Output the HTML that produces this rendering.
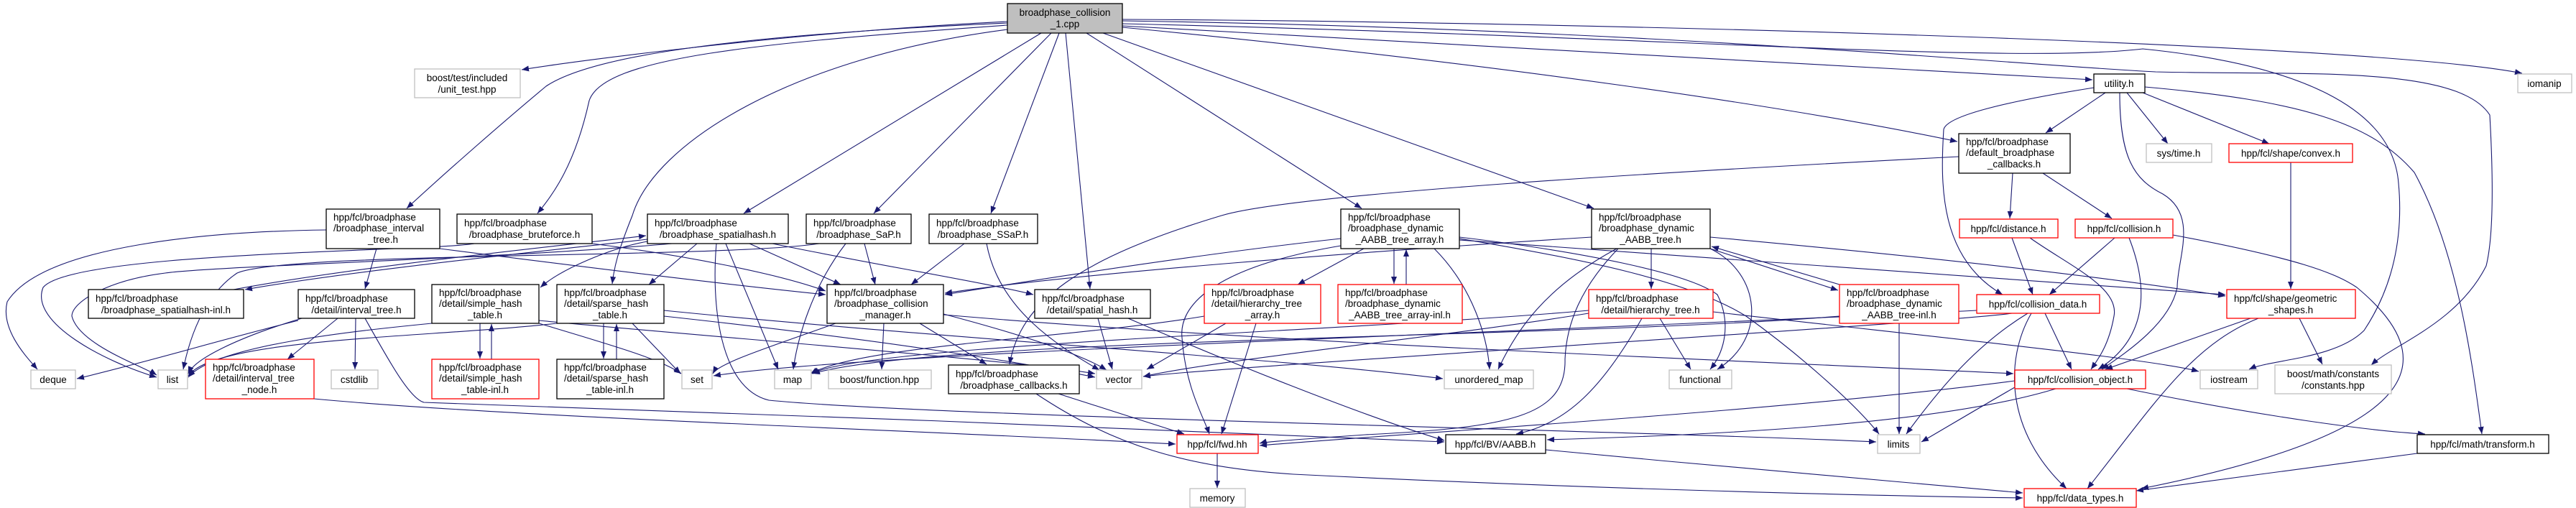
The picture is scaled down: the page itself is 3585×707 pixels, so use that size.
<!DOCTYPE html>
<html><head><meta charset="utf-8"><style>
html,body{margin:0;padding:0;background:#fff;}
svg{display:block;}
text{font-family:"Liberation Sans",Helvetica,sans-serif;font-size:13.5px;fill:#000;}
.e{fill:none;stroke:#191970;stroke-width:1.1;marker-end:url(#a);}
.n{fill:#fff;stroke:#000;stroke-width:1.3;}
.g{fill:#fff;stroke:#bfbfbf;stroke-width:1.3;}
.r{fill:#fff;stroke:#ff0000;stroke-width:1.3;}
</style></head><body>
<svg width="3585" height="707" viewBox="0 0 3585 707" xmlns="http://www.w3.org/2000/svg">
<defs><marker id="a" markerUnits="userSpaceOnUse" markerWidth="11" markerHeight="8" refX="10" refY="4" orient="auto"><path d="M0,0 L10,4 L0,8 z" fill="#191970"/></marker></defs>
<g>
<!-- main edges -->
<path class="e" d="M1402,30 C1100,45 800,85 726,97"/>
<path class="e" d="M1402,32 C1000,50 820,80 760,120 C700,170 620,240 566,290"/>
<path class="e" d="M1402,35 C1050,60 840,80 820,140 C800,230 770,270 748,297"/>
<path class="e" d="M1402,41 C1100,80 910,200 880,300 C860,350 855,370 852,395"/>
<path class="e" d="M1449,46 L1035,297"/>
<path class="e" d="M1463,46 L1216,297"/>
<path class="e" d="M1474,46 L1379,297"/>
<path class="e" d="M1483,46 L1517,402"/>
<path class="e" d="M1512,46 L1895,290"/>
<path class="e" d="M1535,46 L2218,290"/>
<path class="e" d="M1562,36 C2000,60 2600,95 2912,111"/>
<path class="e" d="M1562,38 C2100,90 2500,150 2724,197"/>
<path class="e" d="M1562,27 C2200,30 3300,60 3510,102"/>
<path class="e" d="M1562,29 C2300,40 2800,90 3000,100 C3200,105 3420,90 3465,160 C3470,250 3470,330 3460,370 C3420,450 3330,480 3300,508"/>
<path class="e" d="M1562,33 C2300,50 2800,90 2982,68 C3200,90 3330,150 3338,255 C3345,330 3330,400 3290,460 C3250,500 3160,500 3130,514"/>
<!-- interval_tree.h -->
<path class="e" d="M454,320 C300,322 60,340 10,420 C0,460 40,500 52,514"/>
<path class="e" d="M524,346 L508,402"/>
<path class="e" d="M612,346 C800,370 1000,395 1149,410"/>
<!-- bruteforce -->
<path class="e" d="M660,339 C600,350 100,350 60,400 C40,450 150,505 218,525"/>
<path class="e" d="M824,339 C950,355 1080,380 1149,405"/>
<!-- spatialhash.h -->
<path class="e" d="M901,333 C800,345 500,375 341,403"/>
<path class="e" d="M325,403 C500,370 800,340 899,328"/>
<path class="e" d="M901,336 C850,345 780,375 752,400"/>
<path class="e" d="M970,339 L903,396"/>
<path class="e" d="M1043,339 L1170,396"/>
<path class="e" d="M1010,339 L1083,514"/>
<path class="e" d="M1075,339 C1200,365 1380,395 1438,410"/>
<path class="e" d="M997,339 C990,420 1000,540 1070,557 C1300,580 2300,600 2611,615"/>
<path class="e" d="M935,339 C700,360 300,370 230,380 C150,390 100,420 100,440 C110,480 200,510 218,522"/>
<!-- SaP -->
<path class="e" d="M1203,339 L1218,396"/>
<path class="e" d="M1177,339 C1130,400 1110,470 1104,514"/>
<path class="e" d="M1140,339 C1000,360 400,350 330,380 C300,400 270,440 255,514"/>
<!-- SSaP -->
<path class="e" d="M1342,339 L1268,396"/>
<path class="e" d="M1373,339 C1390,430 1470,480 1530,515"/>
<!-- collision_manager -->
<path class="e" d="M1163,450 C1080,480 1000,505 992,520"/>
<path class="e" d="M1230,450 L1227,514"/>
<path class="e" d="M1280,450 L1373,507"/>
<path class="e" d="M1313,437 C1400,460 1500,490 1540,515"/>
<path class="e" d="M1313,438 C1800,480 2500,505 2802,520"/>
<!-- spatial_hash.h -->
<path class="e" d="M1528,443 L1548,514"/>
<path class="e" d="M1570,443 C1700,500 1900,580 2010,613"/>
<!-- hierarchy_tree_array -->
<path class="e" d="M1706,450 L1596,514"/>
<path class="e" d="M1748,450 L1700,604"/>
<path class="e" d="M1676,440 C1500,470 1200,480 1128,520"/>
<!-- broadphase_callbacks -->
<path class="e" d="M1473,548 L1648,604"/>
<path class="e" d="M1442,548 C1550,620 1650,650 1800,660 C2200,680 2600,690 2815,693"/>
<path class="e" d="M1694,631 L1694,679"/>
<path class="e" d="M437,555 C700,580 1300,600 1636,618"/>
<!-- detail/interval_tree.h -->
<path class="e" d="M415,446 C300,475 200,505 107,527"/>
<path class="e" d="M470,443 L400,500"/>
<path class="e" d="M495,443 L494,514"/>
<path class="e" d="M508,443 C540,500 570,555 590,560 C900,570 1700,600 2010,615"/>
<path class="e" d="M420,443 C330,470 270,500 262,520"/>
<!-- simple hash -->
<path class="e" d="M668,450 L668,499"/>
<path class="e" d="M684,500 L684,451"/>
<path class="e" d="M750,450 C850,480 920,500 948,520"/>
<path class="e" d="M601,450 C500,460 300,480 262,525"/>
<path class="e" d="M750,446 C1000,470 1400,500 1524,520"/>
<!-- sparse hash -->
<path class="e" d="M840,450 L840,499"/>
<path class="e" d="M858,500 L858,451"/>
<path class="e" d="M880,450 L947,520"/>
<path class="e" d="M775,450 C600,470 300,470 262,523"/>
<path class="e" d="M924,440 C1200,470 1400,500 1524,525"/>
<path class="e" d="M924,432 C1300,470 1800,500 2008,527"/>
<!-- dyn array -->
<path class="e" d="M1866,332 C1700,350 1500,380 1315,410"/>
<path class="e" d="M1898,346 L1806,396"/>
<path class="e" d="M1940,346 L1940,395"/>
<path class="e" d="M1957,396 L1957,347"/>
<path class="e" d="M1996,346 C2050,400 2070,470 2073,514"/>
<path class="e" d="M2031,330 C2200,350 2350,380 2390,410 C2410,450 2400,490 2380,514"/>
<path class="e" d="M2031,332 C2200,360 2350,390 2430,440 C2500,490 2580,560 2615,604"/>
<path class="e" d="M2031,334 C2400,360 2800,390 3097,410"/>
<path class="e" d="M1866,342 C1700,370 1640,420 1645,470 C1650,540 1675,580 1683,604"/>
<!-- dyn tree -->
<path class="e" d="M2215,330 C1900,350 1500,380 1315,408"/>
<path class="e" d="M2250,346 C2150,400 2110,460 2085,514"/>
<path class="e" d="M2252,346 C2200,400 2180,450 2178,500 C2180,580 2100,595 1900,605 C1800,612 1760,615 1753,617"/>
<path class="e" d="M2298,346 L2298,402"/>
<path class="e" d="M2380,346 C2450,380 2460,470 2390,514"/>
<path class="e" d="M2380,346 L2558,404"/>
<path class="e" d="M2560,396 L2382,343"/>
<path class="e" d="M2380,330 C2600,350 2900,380 3097,412"/>
<!-- hierarchy_tree.h -->
<path class="e" d="M2211,432 C1900,460 1200,480 1130,520"/>
<path class="e" d="M2211,436 C2000,470 1700,500 1591,524"/>
<path class="e" d="M2285,443 C2230,540 2180,590 2110,604"/>
<path class="e" d="M2310,443 L2353,514"/>
<path class="e" d="M2384,434 C2700,470 3000,500 3060,517"/>
<!-- dyn-inl -->
<path class="e" d="M2643,450 L2643,604"/>
<path class="e" d="M2560,440 C2200,470 1300,470 1131,520"/>
<!-- utility -->
<path class="e" d="M2930,129 L2847,185"/>
<path class="e" d="M2914,122 C2800,140 2710,160 2705,180 C2700,260 2700,360 2787,410"/>
<path class="e" d="M2950,129 C2950,220 2970,250 3010,270 C3060,300 3030,360 3030,400 C3020,450 2960,490 2925,514"/>
<path class="e" d="M2960,129 L3017,200"/>
<path class="e" d="M2982,129 L3158,200"/>
<path class="e" d="M2985,121 C3200,140 3300,170 3360,240 C3420,350 3440,500 3454,604"/>
<path class="e" d="M2726,218 C2300,240 1800,270 1700,300 C1500,360 1420,420 1405,507"/>
<!-- default callbacks -->
<path class="e" d="M2801,241 L2797,304"/>
<path class="e" d="M2843,241 L2939,304"/>
<!-- distance / collision -->
<path class="e" d="M2800,331 L2829,410"/>
<path class="e" d="M2825,331 C2880,370 2950,400 2942,440 C2935,480 2920,500 2910,514"/>
<path class="e" d="M2943,331 L2852,410"/>
<path class="e" d="M2963,331 C2990,400 2990,470 2920,514"/>
<path class="e" d="M3024,327 C3200,360 3250,380 3280,400 C3400,500 3380,600 2980,680"/>
<!-- collision_data -->
<path class="e" d="M2846,436 L2883,514"/>
<path class="e" d="M2827,436 C2790,500 2790,600 2876,680"/>
<path class="e" d="M2822,436 C2750,480 2700,540 2653,604"/>
<path class="e" d="M2800,436 C2700,450 1700,510 1591,524"/>
<path class="e" d="M2751,432 C2200,460 1200,490 993,523"/>
<!-- convex / geometric -->
<path class="e" d="M3188,226 L3188,402"/>
<path class="e" d="M3132,443 L2930,514"/>
<path class="e" d="M3143,443 C3050,480 3000,560 2905,680"/>
<path class="e" d="M3200,443 L3232,507"/>
<!-- collision_object -->
<path class="e" d="M2861,541 C2700,590 2400,605 2153,612"/>
<path class="e" d="M2804,530 C2500,570 2000,600 1753,620"/>
<path class="e" d="M2804,539 C2750,570 2700,600 2674,615"/>
<path class="e" d="M2960,541 C3150,580 3300,600 3375,604"/>
<path class="e" d="M3364,631 L2973,683"/>
<path class="e" d="M2151,626 C2400,650 2700,675 2815,686"/>
</g>
<g>
<!-- nodes -->
<rect x="1402" y="5" width="160" height="41" fill="#bfbfbf" stroke="#000" stroke-width="1.3"/>
<text x="1482" y="22" text-anchor="middle">broadphase_collision</text><text x="1482" y="38" text-anchor="middle">_1.cpp</text>

<rect class="g" x="577" y="96" width="147" height="40"/>
<text x="650" y="113" text-anchor="middle">boost/test/included</text><text x="650" y="129" text-anchor="middle">/unit_test.hpp</text>

<rect class="n" x="454" y="291" width="158" height="55"/>
<text x="464" y="307">hpp/fcl/broadphase</text><text x="464" y="322">/broadphase_interval</text><text x="533" y="338" text-anchor="middle">_tree.h</text>

<rect class="n" x="636" y="298" width="188" height="41"/>
<text x="646" y="315">hpp/fcl/broadphase</text><text x="730" y="331" text-anchor="middle">/broadphase_bruteforce.h</text>

<rect class="n" x="901" y="298" width="196" height="41"/>
<text x="911" y="315">hpp/fcl/broadphase</text><text x="999" y="331" text-anchor="middle">/broadphase_spatialhash.h</text>

<rect class="n" x="1122" y="298" width="146" height="41"/>
<text x="1132" y="315">hpp/fcl/broadphase</text><text x="1195" y="331" text-anchor="middle">/broadphase_SaP.h</text>

<rect class="n" x="1293" y="298" width="151" height="41"/>
<text x="1303" y="315">hpp/fcl/broadphase</text><text x="1368" y="331" text-anchor="middle">/broadphase_SSaP.h</text>

<rect class="n" x="1866" y="291" width="165" height="55"/>
<text x="1876" y="307">hpp/fcl/broadphase</text><text x="1876" y="322">/broadphase_dynamic</text><text x="1948" y="338" text-anchor="middle">_AABB_tree_array.h</text>

<rect class="n" x="2215" y="291" width="165" height="55"/>
<text x="2225" y="307">hpp/fcl/broadphase</text><text x="2225" y="322">/broadphase_dynamic</text><text x="2297" y="338" text-anchor="middle">_AABB_tree.h</text>

<rect class="n" x="2914" y="103" width="71" height="26"/>
<text x="2949" y="121" text-anchor="middle">utility.h</text>

<rect class="g" x="3504" y="103" width="75" height="26"/>
<text x="3541" y="121" text-anchor="middle">iomanip</text>

<rect class="n" x="2726" y="186" width="155" height="55"/>
<text x="2736" y="202">hpp/fcl/broadphase</text><text x="2736" y="217">/default_broadphase</text><text x="2803" y="233" text-anchor="middle">_callbacks.h</text>

<rect class="g" x="2987" y="200" width="91" height="26"/>
<text x="3032" y="218" text-anchor="middle">sys/time.h</text>

<rect class="r" x="3102" y="200" width="172" height="26"/>
<text x="3188" y="218" text-anchor="middle">hpp/fcl/shape/convex.h</text>

<rect class="r" x="2727" y="305" width="137" height="26"/>
<text x="2795" y="323" text-anchor="middle">hpp/fcl/distance.h</text>

<rect class="r" x="2888" y="305" width="136" height="26"/>
<text x="2956" y="323" text-anchor="middle">hpp/fcl/collision.h</text>

<rect class="n" x="123" y="403" width="216" height="40"/>
<text x="133" y="420">hpp/fcl/broadphase</text><text x="231" y="436" text-anchor="middle">/broadphase_spatialhash-inl.h</text>

<rect class="n" x="415" y="403" width="162" height="40"/>
<text x="425" y="420">hpp/fcl/broadphase</text><text x="496" y="436" text-anchor="middle">/detail/interval_tree.h</text>

<rect class="n" x="601" y="396" width="149" height="54"/>
<text x="611" y="412">hpp/fcl/broadphase</text><text x="611" y="427">/detail/simple_hash</text><text x="675" y="443" text-anchor="middle">_table.h</text>

<rect class="n" x="775" y="396" width="149" height="54"/>
<text x="785" y="412">hpp/fcl/broadphase</text><text x="785" y="427">/detail/sparse_hash</text><text x="849" y="443" text-anchor="middle">_table.h</text>

<rect class="n" x="1151" y="396" width="162" height="54"/>
<text x="1161" y="412">hpp/fcl/broadphase</text><text x="1161" y="427">/broadphase_collision</text><text x="1232" y="443" text-anchor="middle">_manager.h</text>

<rect class="n" x="1440" y="403" width="161" height="40"/>
<text x="1450" y="420">hpp/fcl/broadphase</text><text x="1520" y="436" text-anchor="middle">/detail/spatial_hash.h</text>

<rect class="r" x="1676" y="396" width="162" height="54"/>
<text x="1686" y="412">hpp/fcl/broadphase</text><text x="1686" y="427">/detail/hierarchy_tree</text><text x="1757" y="443" text-anchor="middle">_array.h</text>

<rect class="r" x="1862" y="396" width="173" height="54"/>
<text x="1872" y="412">hpp/fcl/broadphase</text><text x="1872" y="427">/broadphase_dynamic</text><text x="1948" y="443" text-anchor="middle">_AABB_tree_array-inl.h</text>

<rect class="r" x="2211" y="403" width="173" height="40"/>
<text x="2221" y="420">hpp/fcl/broadphase</text><text x="2297" y="436" text-anchor="middle">/detail/hierarchy_tree.h</text>

<rect class="r" x="2560" y="396" width="166" height="54"/>
<text x="2570" y="412">hpp/fcl/broadphase</text><text x="2570" y="427">/broadphase_dynamic</text><text x="2643" y="443" text-anchor="middle">_AABB_tree-inl.h</text>

<rect class="r" x="2751" y="410" width="171" height="26"/>
<text x="2836" y="428" text-anchor="middle">hpp/fcl/collision_data.h</text>

<rect class="r" x="3099" y="403" width="179" height="40"/>
<text x="3109" y="420">hpp/fcl/shape/geometric</text><text x="3188" y="436" text-anchor="middle">_shapes.h</text>

<rect class="g" x="43" y="515" width="62" height="26"/><text x="74" y="533" text-anchor="middle">deque</text>
<rect class="g" x="220" y="515" width="41" height="26"/><text x="240" y="533" text-anchor="middle">list</text>
<rect class="r" x="286" y="500" width="151" height="55"/>
<text x="296" y="516">hpp/fcl/broadphase</text><text x="296" y="531">/detail/interval_tree</text><text x="361" y="547" text-anchor="middle">_node.h</text>
<rect class="g" x="461" y="515" width="65" height="26"/><text x="493" y="533" text-anchor="middle">cstdlib</text>
<rect class="r" x="601" y="500" width="149" height="55"/>
<text x="611" y="516">hpp/fcl/broadphase</text><text x="611" y="531">/detail/simple_hash</text><text x="675" y="547" text-anchor="middle">_table-inl.h</text>
<rect class="n" x="775" y="500" width="149" height="55"/>
<text x="785" y="516">hpp/fcl/broadphase</text><text x="785" y="531">/detail/sparse_hash</text><text x="849" y="547" text-anchor="middle">_table-inl.h</text>
<rect class="g" x="949" y="515" width="42" height="26"/><text x="970" y="533" text-anchor="middle">set</text>
<rect class="g" x="1078" y="515" width="51" height="26"/><text x="1103" y="533" text-anchor="middle">map</text>
<rect class="g" x="1153" y="515" width="143" height="26"/><text x="1224" y="533" text-anchor="middle">boost/function.hpp</text>
<rect class="n" x="1320" y="508" width="182" height="40"/>
<text x="1330" y="525">hpp/fcl/broadphase</text><text x="1411" y="541" text-anchor="middle">/broadphase_callbacks.h</text>
<rect class="g" x="1526" y="515" width="63" height="26"/><text x="1557" y="533" text-anchor="middle">vector</text>
<rect class="g" x="2010" y="515" width="124" height="26"/><text x="2072" y="533" text-anchor="middle">unordered_map</text>
<rect class="g" x="2323" y="515" width="87" height="26"/><text x="2366" y="533" text-anchor="middle">functional</text>
<rect class="r" x="2804" y="515" width="182" height="26"/><text x="2895" y="533" text-anchor="middle">hpp/fcl/collision_object.h</text>
<rect class="g" x="3062" y="515" width="80" height="26"/><text x="3102" y="533" text-anchor="middle">iostream</text>
<rect class="g" x="3166" y="508" width="162" height="40"/>
<text x="3247" y="525" text-anchor="middle">boost/math/constants</text><text x="3247" y="541" text-anchor="middle">/constants.hpp</text>

<rect class="r" x="1638" y="605" width="113" height="26"/><text x="1694" y="623" text-anchor="middle">hpp/fcl/fwd.hh</text>
<rect class="n" x="2012" y="605" width="139" height="26"/><text x="2081" y="623" text-anchor="middle">hpp/fcl/BV/AABB.h</text>
<rect class="g" x="2613" y="605" width="59" height="26"/><text x="2642" y="623" text-anchor="middle">limits</text>
<rect class="n" x="3364" y="605" width="183" height="26"/><text x="3455" y="623" text-anchor="middle">hpp/fcl/math/transform.h</text>

<rect class="g" x="1656" y="680" width="77" height="26"/><text x="1694" y="698" text-anchor="middle">memory</text>
<rect class="r" x="2817" y="680" width="156" height="26"/><text x="2895" y="698" text-anchor="middle">hpp/fcl/data_types.h</text>
</g>
</svg>
</body></html>
